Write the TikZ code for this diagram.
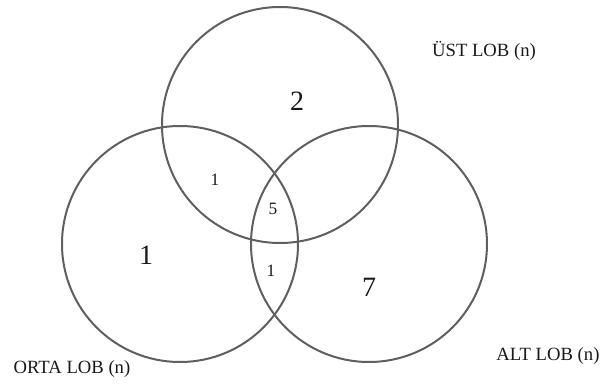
\documentclass[tikz,border=0pt]{standalone}
\usepackage{fontspec}
\setmainfont{Liberation Serif}
\usepackage{xcolor}
\usepackage{tikz}
\definecolor{lobgray}{RGB}{95, 95, 95}
\definecolor{lobtext}{RGB}{25, 25, 25}

\begin{document}
\begin{tikzpicture}[x=0.75pt, y=-0.75pt]
            \useasboundingbox (0,0) rectangle (601,385);
            % The three lobes
            \node [draw=lobgray, circle, line width=1.5pt, minimum size=177pt, inner sep=0pt] (ust) at (280,125) {};
            \node [draw=lobgray, circle, line width=1.5pt, minimum size=177pt, inner sep=0pt] (orta) at (180,244) {};
            \node [draw=lobgray, circle, line width=1.5pt, minimum size=177pt, inner sep=0pt] (alt) at (369,244) {};

            % Counts inside the regions
            \node [text=lobtext, font=\fontsize{21}{23}\selectfont] (nust) at (297,101) {2};
            \node [text=lobtext, font=\fontsize{21}{23}\selectfont] (norta) at (146,255) {1};
            \node [text=lobtext, font=\fontsize{21}{23}\selectfont] (nalt) at (369,287) {7};
            \node [text=lobtext, font=\fontsize{13}{15}\selectfont] (nustorta) at (215,180) {1};
            \node [text=lobtext, font=\fontsize{13}{15}\selectfont] (nhepsi) at (273,209) {5};
            \node [text=lobtext, font=\fontsize{13}{15}\selectfont] (nortaalt) at (271,271) {1};

            % Lobe names
            \node [text=lobtext, font=\fontsize{14}{16}\selectfont] (lust) at (484,51) {ÜST LOB (n)};
            \node [text=lobtext, font=\fontsize{14}{16}\selectfont] (lorta) at (72,369) {ORTA LOB (n)};
            \node [text=lobtext, font=\fontsize{14}{16}\selectfont] (lalt) at (548,356) {ALT LOB (n)};
        \end{tikzpicture}
\end{document}
